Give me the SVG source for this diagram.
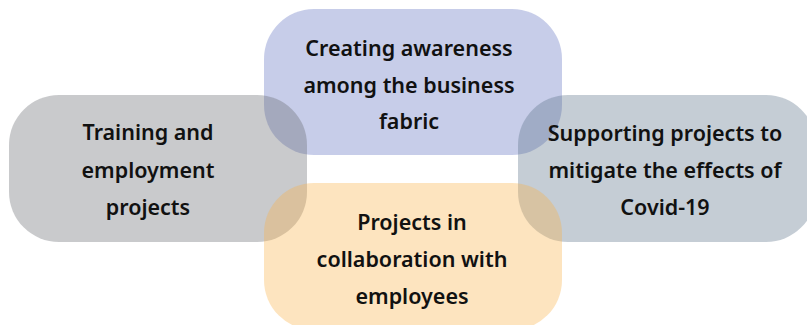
<svg xmlns="http://www.w3.org/2000/svg" width="807" height="325" viewBox="0 0 807 325">
  <style>
    .box { fill-opacity: 0.35; }
    .lbl { font-family: "Noto Sans", "DejaVu Sans", sans-serif; font-size: 21.5px; font-weight: 600; fill: #111; text-anchor: middle; }
  </style>
  <rect width="807" height="325" fill="#ffffff"/>
  <g id="node-awareness">
    <rect class="box" x="264" y="9" width="298" height="146" rx="50" fill="#5f70c0"/>
    <text class="lbl" x="409" y="56">Creating awareness</text>
    <text class="lbl" x="409" y="93">among the business</text>
    <text class="lbl" x="409" y="129">fabric</text>
  </g>
  <g id="node-training">
    <rect class="box" x="9" y="95" width="298" height="147" rx="50" fill="#65676c"/>
    <text class="lbl" x="148" y="140">Training and</text>
    <text class="lbl" x="148" y="178">employment</text>
    <text class="lbl" x="148" y="215">projects</text>
  </g>
  <g id="node-covid">
    <rect class="box" x="518" y="95" width="298" height="147" rx="50" fill="#597087"/>
    <text class="lbl" x="665" y="141">Supporting projects to</text>
    <text class="lbl" x="665" y="178">mitigate the effects of</text>
    <text class="lbl" x="665" y="215">Covid-19</text>
  </g>
  <g id="node-collaboration">
    <rect class="box" x="264" y="183" width="298" height="147" rx="50" fill="#f9b248"/>
    <text class="lbl" x="412" y="230">Projects in</text>
    <text class="lbl" x="412" y="267">collaboration with</text>
    <text class="lbl" x="412" y="304">employees</text>
  </g>
  <g id="connectors"/>
</svg>
